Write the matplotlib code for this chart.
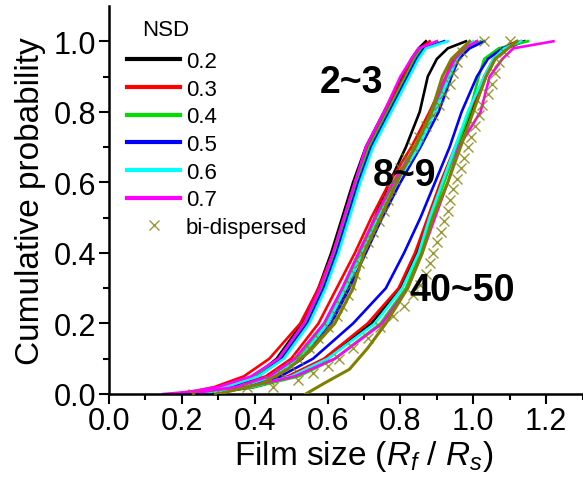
import numpy as np
import matplotlib
matplotlib.use("Agg")
import matplotlib.pyplot as plt
from matplotlib.ticker import FixedLocator

plt.rcParams["font.family"] = ["Liberation Sans", "DejaVu Sans"]
plt.rcParams["mathtext.fontset"] = "custom"
plt.rcParams["mathtext.rm"] = "Liberation Sans"
plt.rcParams["mathtext.it"] = "Liberation Sans:italic"

# ---------------------------------------------------------------------------
# Data (film size at given cumulative probability)
# ---------------------------------------------------------------------------
nsd_labels = ["0.2", "0.3", "0.4", "0.5", "0.6", "0.7"]
nsd_colors = ["#000000", "#ff0000", "#00dd00", "#0000ff", "#00ffff", "#ff00ff"]

prob = [0.0, 0.02, 0.05, 0.1, 0.2, 0.3, 0.4, 0.5, 0.6, 0.7, 0.8, 0.9, 0.95, 0.98, 1.0]

# group "2~3"
g23 = [
    [0.25, 0.33, 0.40, 0.46, 0.53, 0.575, 0.61, 0.64, 0.67, 0.705, 0.755, 0.805, 0.83, 0.85, 0.87],
    [0.20, 0.29, 0.37, 0.44, 0.525, 0.575, 0.615, 0.645, 0.675, 0.71, 0.76, 0.81, 0.835, 0.855, 0.88],
    [0.24, 0.32, 0.40, 0.47, 0.54, 0.585, 0.62, 0.65, 0.68, 0.715, 0.765, 0.815, 0.84, 0.86, 0.90],
    [0.23, 0.33, 0.41, 0.475, 0.545, 0.59, 0.625, 0.655, 0.685, 0.72, 0.77, 0.82, 0.845, 0.865, 0.92],
    [0.22, 0.32, 0.41, 0.48, 0.55, 0.595, 0.63, 0.66, 0.69, 0.725, 0.775, 0.825, 0.85, 0.87, 0.93],
    [0.18, 0.30, 0.39, 0.465, 0.535, 0.58, 0.615, 0.645, 0.675, 0.705, 0.755, 0.80, 0.83, 0.85, 0.90],
]

# group "8~9"
g89 = [
    [0.26, 0.36, 0.44, 0.52, 0.60, 0.655, 0.69, 0.73, 0.77, 0.815, 0.853, 0.875, 0.90, 0.93, 0.98],
    [0.24, 0.34, 0.43, 0.50, 0.575, 0.625, 0.675, 0.72, 0.77, 0.83, 0.88, 0.925, 0.945, 0.97, 1.01],
    [0.20, 0.35, 0.45, 0.52, 0.595, 0.645, 0.69, 0.735, 0.785, 0.845, 0.89, 0.93, 0.955, 0.98, 1.02],
    [0.27, 0.38, 0.46, 0.53, 0.61, 0.66, 0.705, 0.75, 0.80, 0.855, 0.905, 0.94, 0.96, 0.99, 1.03],
    [0.25, 0.36, 0.45, 0.525, 0.60, 0.65, 0.695, 0.74, 0.79, 0.85, 0.895, 0.935, 0.955, 0.975, 1.00],
    [0.22, 0.35, 0.44, 0.51, 0.59, 0.64, 0.685, 0.73, 0.78, 0.84, 0.885, 0.925, 0.95, 0.975, 1.01],
]

# group "40~50"
g4050 = [
    [0.27, 0.40, 0.50, 0.60, 0.72, 0.80, 0.845, 0.88, 0.915, 0.955, 0.995, 1.035, 1.06, 1.09, 1.14],
    [0.25, 0.39, 0.49, 0.59, 0.71, 0.795, 0.84, 0.875, 0.91, 0.95, 0.99, 1.03, 1.055, 1.08, 1.12],
    [0.20, 0.40, 0.52, 0.62, 0.745, 0.815, 0.855, 0.885, 0.92, 0.955, 0.99, 1.015, 1.03, 1.07, 1.15],
    [0.22, 0.37, 0.47, 0.56, 0.67, 0.76, 0.81, 0.855, 0.895, 0.935, 0.968, 1.01, 1.04, 1.08, 1.13],
    [0.24, 0.39, 0.50, 0.60, 0.73, 0.805, 0.85, 0.88, 0.915, 0.95, 0.985, 1.03, 1.055, 1.085, 1.13],
    [0.15, 0.38, 0.51, 0.62, 0.75, 0.82, 0.86, 0.895, 0.93, 0.96, 1.02, 1.045, 1.08, 1.11, 1.22],
]

# bi-dispersed, solid olive lines
bi89_line_p = [0.0, 0.03, 0.07, 0.12, 0.2, 0.3, 0.4, 0.5, 0.6, 0.7, 0.8, 0.9, 0.95, 1.0]
bi89_line_x = [0.30, 0.42, 0.49, 0.55, 0.62, 0.67, 0.70, 0.745, 0.79, 0.84, 0.885, 0.915, 0.94, 0.99]
bi4050_line_p = [0.0, 0.03, 0.07, 0.13, 0.2, 0.3, 0.4, 0.5, 0.6, 0.7, 0.8, 0.9, 0.95, 1.0]
bi4050_line_x = [0.54, 0.59, 0.66, 0.71, 0.76, 0.82, 0.86, 0.89, 0.93, 0.965, 1.0, 1.035, 1.06, 1.12]

# bi-dispersed, x markers
bi_mk_p = [0.0, 0.02, 0.04, 0.06, 0.08, 0.10, 0.13, 0.16, 0.19, 0.22, 0.25, 0.28,
           0.31, 0.34, 0.37, 0.40, 0.43, 0.46, 0.49, 0.52, 0.55, 0.58, 0.61, 0.64,
           0.67, 0.70, 0.73, 0.76, 0.79, 0.82, 0.85, 0.88, 0.91, 0.94, 0.97, 1.0]
bi89_mk_x = [0.23, 0.38, 0.44, 0.47, 0.50, 0.52, 0.55, 0.575, 0.60, 0.625, 0.64, 0.655,
             0.665, 0.675, 0.685, 0.695, 0.71, 0.725, 0.74, 0.755, 0.765, 0.775, 0.785, 0.80,
             0.815, 0.835, 0.85, 0.87, 0.89, 0.905, 0.92, 0.935, 0.945, 0.955, 0.97, 1.03]
bi4050_mk_x = [0.29, 0.45, 0.52, 0.56, 0.60, 0.63, 0.67, 0.71, 0.745, 0.78, 0.81, 0.835,
               0.855, 0.87, 0.88, 0.89, 0.90, 0.91, 0.92, 0.93, 0.935, 0.945, 0.955, 0.965,
               0.975, 0.985, 0.995, 1.005, 1.015, 1.025, 1.04, 1.05, 1.06, 1.07, 1.085, 1.10]

group_names = ["2~3", "8~9", "40~50"]
group_text_x = [0.665, 0.81, 0.97]
group_text_y = [0.885, 0.62, 0.295]

x_ticks = [0.0, 0.2, 0.4, 0.6, 0.8, 1.0, 1.2]
x_tick_labels = ["0.0", "0.2", "0.4", "0.6", "0.8", "1.0", "1.2"]
y_ticks = [0.0, 0.2, 0.4, 0.6, 0.8, 1.0]
y_tick_labels = ["0.0", "0.2", "0.4", "0.6", "0.8", "1.0"]

olive = "#808000"

# ---------------------------------------------------------------------------
fig = plt.figure(figsize=(5.83, 4.81), dpi=100)
# axis runs past the right edge of the picture (cropped original)
ax = fig.add_axes([109 / 583, 86 / 481, 510 / 583, 388 / 481])

for g_i, group in enumerate([g23, g89, g4050]):
    for k, xs in enumerate(group):
        ax.plot(xs, prob, color=nsd_colors[k], lw=1.9,
                label=nsd_labels[k] if g_i == 0 else None, zorder=2 + k * 0.01)

ax.plot(bi89_line_x, bi89_line_p, color=olive, lw=2.2, zorder=3)
ax.plot(bi4050_line_x, bi4050_line_p, color=olive, lw=2.2, zorder=3)
ax.plot(bi89_mk_x, bi_mk_p, ls="none", marker="x", ms=7, mew=1.0,
        color=olive, alpha=0.8, label="bi-dispersed", zorder=3)
ax.plot(bi4050_mk_x, bi_mk_p, ls="none", marker="x", ms=7, mew=1.0,
        color=olive, alpha=0.8, zorder=3)

for name, tx, ty in zip(group_names, group_text_x, group_text_y):
    ax.text(tx, ty, name, fontsize=27, fontweight="bold", ha="center", va="center", zorder=5)

ax.set_xlim(0, 1.4)
ax.set_ylim(0, 1.1)
ax.set_xticks(x_ticks)
ax.set_xticklabels(x_tick_labels)
ax.set_yticks(y_ticks)
ax.set_yticklabels(y_tick_labels)
ax.xaxis.set_minor_locator(FixedLocator([0.1, 0.3, 0.5, 0.7, 0.9, 1.1, 1.3]))
ax.yaxis.set_minor_locator(FixedLocator([0.1, 0.3, 0.5, 0.7, 0.9]))
ax.tick_params(which="major", direction="out", length=7, width=1.5, labelsize=22, pad=2)
ax.tick_params(which="minor", direction="out", length=4, width=1.5)
for side in ["top", "right"]:
    ax.spines[side].set_visible(False)
for side in ["left", "bottom"]:
    ax.spines[side].set_linewidth(1.8)

ax.set_xlabel(r"Film size ($R_f$ / $R_s$)", fontsize=24, labelpad=1)
ax.set_ylabel("Cumulative probability", fontsize=24, labelpad=6)

leg = ax.legend(loc="upper left", bbox_to_anchor=(127 / 583, 1 - 52 / 481),
                bbox_transform=fig.transFigure, frameon=False, fontsize=16,
                handlelength=2.4, handletextpad=0.25, labelspacing=0.30,
                borderpad=0, borderaxespad=0)
for h in leg.legend_handles:
    h.set_linewidth(3)
fig.text(166 / 583, 1 - 30 / 481, "NSD", fontsize=16, ha="center", va="center")

fig.savefig("out.png", dpi=100)
